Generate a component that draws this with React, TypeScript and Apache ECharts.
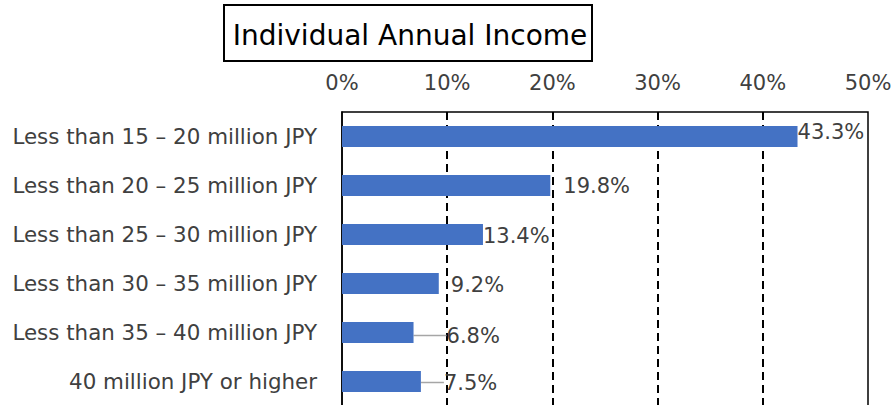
import React, { useEffect, useRef } from "react";
import * as echarts from "echarts";

const categories = [
  "Less than 15 – 20 million JPY",
  "Less than 20 – 25 million JPY",
  "Less than 25 – 30 million JPY",
  "Less than 30 – 35 million JPY",
  "Less than 35 – 40 million JPY",
  "40 million JPY or higher",
];
const values = [43.3, 19.8, 13.4, 9.2, 6.8, 7.5];
const titleText = "Individual Annual Income";
// label nudges and leader-line flags (style only)
const labelShift: [number, number][] = [
  [0, -5],
  [13, 0],
  [0, 1],
  [12, 1],
  [33, 3],
  [23, 1],
];
const showLeader = [false, false, false, false, true, true];

const FONT = "'DejaVu Sans', Verdana, sans-serif";

export default function App() {
  const ref = useRef<HTMLDivElement>(null);
  useEffect(() => {
    if (!ref.current) return;
    const chart = echarts.init(ref.current, undefined, { renderer: "svg" });
    chart.setOption({
      animation: false,
      textStyle: { fontFamily: FONT },
      grid: {
        left: 342,
        top: 112,
        width: 526,
        height: 294,
        show: true,
        borderColor: "#000",
        borderWidth: 1.5,
      },
      graphic: [
        {
          type: "rect",
          shape: { x: 224, y: 5, width: 368, height: 56 },
          style: { fill: "#fff", stroke: "#000", lineWidth: 2 },
        },
        {
          type: "text",
          x: 410,
          y: 35,
          style: {
            text: titleText,
            fontSize: 28,
            fontFamily: FONT,
            fill: "#000",
            align: "center",
            verticalAlign: "middle",
          },
        },
      ],
      xAxis: {
        type: "value",
        position: "top",
        min: 0,
        max: 50,
        interval: 10,
        axisLine: { show: false },
        axisTick: { show: false },
        axisLabel: {
          formatter: "{value}%",
          fontSize: 21,
          color: "#404040",
          margin: 19,
          fontFamily: FONT,
        },
        splitLine: {
          show: true,
          showMinLine: false,
          showMaxLine: false,
          lineStyle: { color: "#000", type: [8, 5], width: 2 },
        },
      },
      yAxis: {
        type: "category",
        data: categories,
        inverse: true,
        axisLine: { show: true, lineStyle: { color: "#000", width: 1.5 } },
        axisTick: { show: false },
        axisLabel: {
          fontSize: 21.4,
          color: "#404040",
          margin: 25,
          fontFamily: FONT,
        },
      },
      series: [
        {
          type: "bar",
          data: values.map((v, i) => ({
            value: v,
            labelLine: { show: showLeader[i] },
          })),
          barWidth: 21,
          itemStyle: { color: "#4472C4" },
          label: {
            show: true,
            position: "right",
            distance: 0,
            formatter: (p: any) => p.value.toFixed(1) + "%",
            fontSize: 21,
            color: "#404040",
            fontFamily: FONT,
          },
          labelLayout: (p: any) => ({
            dx: labelShift[p.dataIndex][0],
            dy: labelShift[p.dataIndex][1],
          }),
          labelLine: {
            show: true,
            lineStyle: { color: "#A6A6A6", width: 1.5 },
          },
        },
      ],
    });
    return () => chart.dispose();
  }, []);
  return (
    <div
      ref={ref}
      style={{ position: "absolute", left: 0, top: 0, width: 896, height: 410 }}
    />
  );
}
